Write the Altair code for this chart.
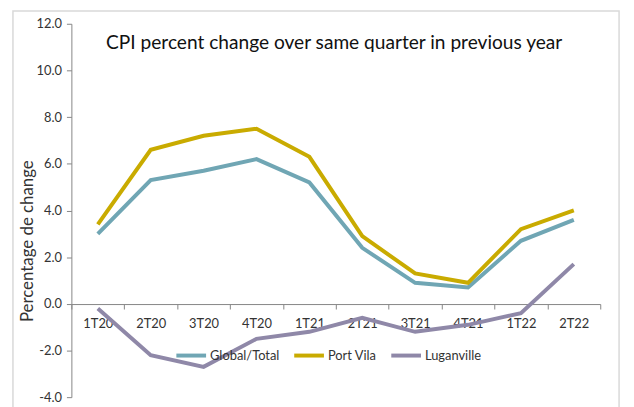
import altair as alt
import pandas as pd

quarters = ["1T20", "2T20", "3T20", "4T20", "1T21", "2T21", "3T21", "4T21", "1T22", "2T22"]
global_total = [3.0, 5.3, 5.7, 6.2, 5.2, 2.4, 0.9, 0.7, 2.7, 3.6]
port_vila = [3.4, 6.6, 7.2, 7.5, 6.3, 2.9, 1.3, 0.9, 3.2, 4.0]
luganville = [-0.2, -2.2, -2.7, -1.5, -1.2, -0.6, -1.2, -0.9, -0.4, 1.7]
series_names = ["Global/Total", "Port Vila", "Luganville"]
series_colors = ["#70A6B4", "#C9AB00", "#8F88A8"]
y_ticks = [-4, -2, 0, 2, 4, 6, 8, 10, 12]
title_text = "CPI percent change over same quarter in previous year"
y_title = "Percentage de change"

rows = []
for name, vals in zip(series_names, [global_total, port_vila, luganville]):
    for q, v in zip(quarters, vals):
        rows.append({"quarter": q, "series": name, "value": v})
df = pd.DataFrame(rows)

FONT = "Lato"
TXT = "#333333"
AXIS = "#868686"
W, H = 534, 377

frame = alt.Chart(pd.DataFrame({"k": [0]})).mark_rect(
    fillOpacity=0, stroke="#d9d9d9", strokeWidth=1.5
).encode(
    x=alt.value(-59), x2=alt.value(553), y=alt.value(-13), y2=alt.value(420)
)

lines = alt.Chart(df).mark_line(strokeWidth=4).encode(
    x=alt.X(
        "quarter:N", sort=quarters, bandPosition=0.5,
        scale=alt.Scale(type="band", paddingInner=0, paddingOuter=0),
        axis=alt.Axis(
            title=None, tickBand="extent", offset=-94, labelAngle=0,
            tickSize=5, labelPadding=9, domainColor=AXIS, tickColor=AXIS,
            labelFont=FONT, labelFontSize=13, labelColor=TXT,
        ),
    ),
    y=alt.Y(
        "value:Q",
        scale=alt.Scale(domain=[-4, 12], nice=False, zero=False),
        axis=alt.Axis(
            values=y_ticks, format=".1f",
            labelExpr="replace(datum.label, '\u2212', '-')",
            grid=False, title=y_title,
            titleX=-35, titleY=219, titleFont=FONT, titleFontSize=17,
            titleFontWeight="normal", titleColor=TXT,
            tickSize=5, labelPadding=5, domainColor=AXIS, tickColor=AXIS,
            labelFont=FONT, labelFontSize=13, labelColor=TXT,
        ),
    ),
    color=alt.Color(
        "series:N", sort=series_names,
        scale=alt.Scale(domain=series_names, range=series_colors),
        legend=alt.Legend(
            title=None, orient="none", legendX=104, legendY=318,
            direction="horizontal", symbolType="stroke", symbolStrokeWidth=4,
            symbolSize=900, labelFont=FONT, labelFontSize=13, labelColor=TXT,
            columnPadding=6, labelOffset=2,
        ),
    ),
)

title = alt.Chart(pd.DataFrame({"t": [title_text]})).mark_text(
    align="left", baseline="middle", font=FONT, fontSize=19.3, color="#111111"
).encode(x=alt.value(35), y=alt.value(19), text="t:N")

chart = alt.layer(frame, lines, title).properties(
    width=W, height=H,
    autosize=alt.AutoSizeParams(type="none"),
    padding={"left": 64, "top": 14, "right": 26, "bottom": 8},
).configure_view(stroke=None)

chart.save("out.html", embed_options={"renderer": "svg", "actions": False})
